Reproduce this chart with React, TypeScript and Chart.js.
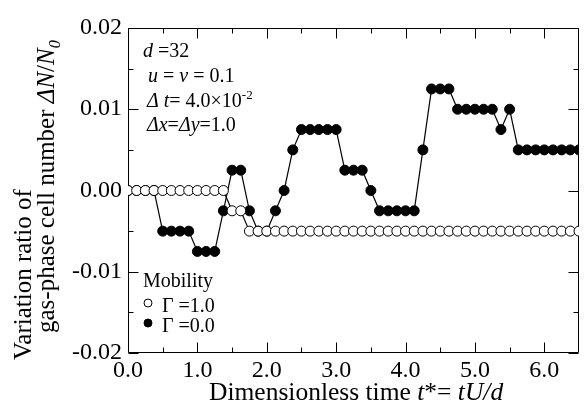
import React, { useEffect, useRef } from 'react';
import { Chart, registerables } from 'chart.js';

Chart.register(...registerables);

// Dimensionless time t* (sample times)
const times = [
  0, 0.125, 0.25, 0.375, 0.5, 0.625, 0.75, 0.875, 1.0, 1.125,
  1.25, 1.375, 1.5, 1.625, 1.75, 1.875, 2.0, 2.125, 2.25, 2.375,
  2.5, 2.625, 2.75, 2.875, 3.0, 3.125, 3.25, 3.375, 3.5, 3.625,
  3.75, 3.875, 4.0, 4.125, 4.25, 4.375, 4.5, 4.625, 4.75, 4.875,
  5.0, 5.125, 5.25, 5.375, 5.5, 5.625, 5.75, 5.875, 6.0, 6.125,
  6.25, 6.375, 6.5,
];

// Γ = 1.0 (open circles)
const gammaOne = [
  0, 0, 0, 0, 0, 0, 0, 0, 0, 0,
  0, 0, -0.0025, -0.0025, -0.005, -0.005, -0.005, -0.005, -0.005, -0.005,
  -0.005, -0.005, -0.005, -0.005, -0.005, -0.005, -0.005, -0.005, -0.005, -0.005,
  -0.005, -0.005, -0.005, -0.005, -0.005, -0.005, -0.005, -0.005, -0.005, -0.005,
  -0.005, -0.005, -0.005, -0.005, -0.005, -0.005, -0.005, -0.005, -0.005, -0.005,
  -0.005, -0.005, -0.005,
];

// Γ = 0.0 (filled circles)
const gammaZero = [
  0, 0, 0, 0, -0.005, -0.005, -0.005, -0.005, -0.0075, -0.0075,
  -0.0075, -0.0025, 0.0025, 0.0025, -0.0025, -0.005, -0.005, -0.0025, 0, 0.005,
  0.0075, 0.0075, 0.0075, 0.0075, 0.0075, 0.0025, 0.0025, 0.0025, 0, -0.0025,
  -0.0025, -0.0025, -0.0025, -0.0025, 0.005, 0.0125, 0.0125, 0.0125, 0.01, 0.01,
  0.01, 0.01, 0.01, 0.0075, 0.01, 0.005, 0.005, 0.005, 0.005, 0.005,
  0.005, 0.005, 0.005,
];

const xTickValues = [0, 1, 2, 3, 4, 5, 6];
const xMinorValues = [0.5, 1.5, 2.5, 3.5, 4.5, 5.5];
const yTickValues = [-0.02, -0.01, 0, 0.01, 0.02];
const yMinorValues = [-0.015, -0.005, 0.005, 0.015];

const FONT = '"Liberation Serif", "Times New Roman", serif';
const fnt = (size: number, italic?: boolean) => `${italic ? 'italic ' : ''}${size}px ${FONT}`;

type Seg = { t: string; i?: boolean; sup?: boolean; sub?: boolean };

function drawRich(ctx: CanvasRenderingContext2D, segs: Seg[], x: number, y: number, size: number) {
  let cx = x;
  for (const s of segs) {
    const sz = s.sup || s.sub ? size * 0.65 : size;
    ctx.font = fnt(sz, !!s.i);
    const dy = s.sup ? -size * 0.42 : s.sub ? size * 0.22 : 0;
    ctx.fillText(s.t, cx, y + dy);
    cx += ctx.measureText(s.t).width;
  }
}

const framePlugin = {
  id: 'framePlugin',
  beforeDatasetsDraw(chart: any) {
    const { ctx, chartArea: a, scales } = chart;
    const xs = scales.x;
    const ys = scales.y;
    ctx.save();
    ctx.strokeStyle = '#000';
    ctx.lineWidth = 1;
    ctx.beginPath();
    const L = Math.round(a.left) + 0.5, R = Math.round(a.right) - 0.5;
    const T = Math.round(a.top) + 0.5, B = Math.round(a.bottom) - 0.5;
    ctx.rect(L, T, R - L, B - T);
    const major = 10, minor = 5;
    const xt = (v: number, len: number) => {
      const px = Math.round(xs.getPixelForValue(v)) + 0.5;
      ctx.moveTo(px, B); ctx.lineTo(px, B - len);
      ctx.moveTo(px, T); ctx.lineTo(px, T + len);
    };
    const yt = (v: number, len: number) => {
      const py = Math.round(ys.getPixelForValue(v)) + 0.5;
      ctx.moveTo(L, py); ctx.lineTo(L + len, py);
      ctx.moveTo(R, py); ctx.lineTo(R - len, py);
    };
    xTickValues.forEach((v) => xt(v, major));
    xMinorValues.forEach((v) => xt(v, minor));
    yTickValues.forEach((v) => yt(v, major));
    yMinorValues.forEach((v) => yt(v, minor));
    ctx.stroke();
    ctx.restore();
  },
  afterDraw(chart: any) {
    const { ctx, chartArea: a, scales } = chart;
    const xs = scales.x;
    const ys = scales.y;
    ctx.save();
    ctx.fillStyle = '#000';
    ctx.textBaseline = 'alphabetic';

    // tick labels
    ctx.font = fnt(24);
    ctx.textAlign = 'center';
    xs.ticks.forEach((t: any) => {
      ctx.fillText(t.value.toFixed(1), xs.getPixelForValue(t.value), a.bottom + 24);
    });
    ctx.textAlign = 'right';
    ys.ticks.forEach((t: any) => {
      ctx.fillText(t.value.toFixed(2), a.left - 6, ys.getPixelForValue(t.value) + 6);
    });

    ctx.textAlign = 'left';
    // x axis title
    drawRich(ctx, [
      { t: 'Dimensionless time ' },
      { t: 't', i: true },
      { t: '*= ' },
      { t: 'tU/d', i: true },
    ], 209, 400, 25.5);

    // y axis title (rotated)
    ctx.save();
    ctx.translate(31, 360);
    ctx.rotate(-Math.PI / 2);
    drawRich(ctx, [{ t: 'Variation ratio of' }], 0, 0, 25);
    ctx.restore();
    ctx.save();
    ctx.translate(54, 333);
    ctx.rotate(-Math.PI / 2);
    drawRich(ctx, [
      { t: 'gas-phase cell number ' },
      { t: 'ΔN', i: true },
      { t: '/' },
      { t: 'N', i: true },
      { t: '0', i: true, sub: true },
    ], 0, 0, 25);
    ctx.restore();

    // annotations
    drawRich(ctx, [{ t: 'd', i: true }, { t: ' =32' }], 143, 57, 20);
    drawRich(ctx, [{ t: 'u', i: true }, { t: ' = ' }, { t: 'v', i: true }, { t: ' = 0.1' }], 148, 82, 20);
    drawRich(ctx, [{ t: 'Δ t', i: true }, { t: '= 4.0×10' }, { t: '-2', sup: true }], 147, 107, 20);
    drawRich(ctx, [{ t: 'Δx', i: true }, { t: '=' }, { t: 'Δy', i: true }, { t: '=1.0' }], 147, 131, 20);

    // legend
    drawRich(ctx, [{ t: 'Mobility' }], 143, 287, 20);
    const ds = chart.data.datasets;
    const rows = [
      { y: 303, label: 'Γ =1.0', d: ds[0] },
      { y: 323, label: 'Γ =0.0', d: ds[1] },
    ];
    rows.forEach((r) => {
      ctx.beginPath();
      ctx.arc(148, r.y, 4, 0, Math.PI * 2);
      ctx.fillStyle = r.d.pointBackgroundColor;
      ctx.fill();
      ctx.lineWidth = 1;
      ctx.strokeStyle = '#000';
      ctx.stroke();
      ctx.fillStyle = '#000';
      drawRich(ctx, [{ t: r.label }], 162, r.y + 9, 20);
    });
    ctx.restore();
  },
};

export default function App() {
  const ref = useRef<HTMLCanvasElement | null>(null);
  useEffect(() => {
    if (!ref.current) return;
    const chart = new Chart(ref.current, {
      type: 'line',
      data: {
        datasets: [
          {
            label: 'Γ=1.0',
            data: times.map((t, i) => ({ x: t, y: gammaOne[i] })),
            borderColor: '#000',
            borderWidth: 1.2,
            pointRadius: 5,
            pointBorderWidth: 1,
            pointBorderColor: '#000',
            pointBackgroundColor: '#fff',
            tension: 0,
          },
          {
            label: 'Γ=0.0',
            data: times.map((t, i) => ({ x: t, y: gammaZero[i] })),
            borderColor: '#000',
            borderWidth: 1.2,
            pointRadius: 5,
            pointBorderWidth: 1,
            pointBorderColor: '#000',
            pointBackgroundColor: '#000',
            tension: 0,
          },
        ],
      },
      options: {
        animation: false,
        responsive: true,
        maintainAspectRatio: false,
        events: [],
        layout: { padding: { top: 28, right: 2, bottom: 0, left: 0 } },
        plugins: { legend: { display: false }, tooltip: { enabled: false } },
        scales: {
          x: {
            type: 'linear',
            min: 0,
            max: 6.5,
            grid: { display: false },
            border: { display: false },
            ticks: { display: false },
            afterBuildTicks: (s: any) => { s.ticks = xTickValues.map((v) => ({ value: v })); },
            afterFit: (s: any) => { s.height = 51; },
          },
          y: {
            type: 'linear',
            min: -0.02,
            max: 0.02,
            grid: { display: false },
            border: { display: false },
            ticks: { display: false },
            afterBuildTicks: (s: any) => { s.ticks = yTickValues.map((v) => ({ value: v })); },
            afterFit: (s: any) => { s.width = 128; },
          },
        },
      },
      plugins: [framePlugin],
    } as any);
    return () => chart.destroy();
  }, []);
  return (
    <div style={{ position: 'fixed', left: 0, top: 0, width: 585, height: 404, background: '#fff' }}>
      <canvas ref={ref} />
    </div>
  );
}
